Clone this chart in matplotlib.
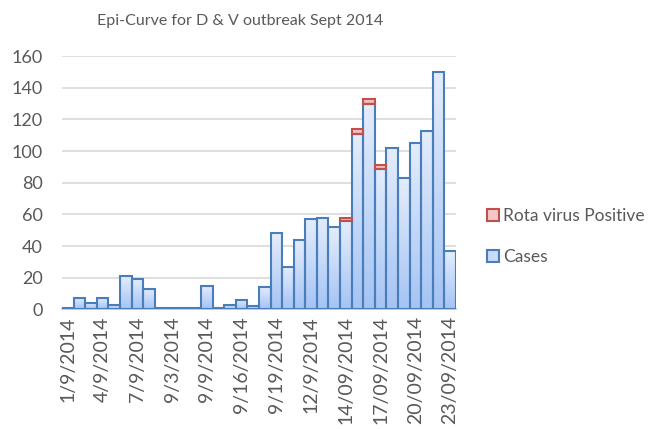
import numpy as np
import matplotlib
matplotlib.use("Agg")
import matplotlib.pyplot as plt
from matplotlib.patches import Patch

plt.rcParams['font.family'] = ['Lato', 'DejaVu Sans']

# ---- data ----
cases = [1, 7, 4, 7, 3, 21, 19, 13, 1, 1, 1, 1, 15, 1, 3, 6, 2, 14,
         48, 27, 44, 57, 58, 52, 56, 111, 130, 89, 102, 83, 105, 113, 150, 37]
rota = [0, 0, 0, 0, 0, 0, 0, 0, 0, 0, 0, 0, 0, 0, 0, 0, 0, 0,
        0, 0, 0, 0, 0, 0, 2, 3, 3, 2, 0, 0, 0, 0, 0, 0]
tick_labels = ["1/9/2014", "4/9/2014", "7/9/2014", "9/3/2014", "9/9/2014",
               "9/16/2014", "9/19/2014", "12/9/2014", "14/09/2014",
               "17/09/2014", "20/09/2014", "23/09/2014"]
title = "Epi-Curve for D & V outbreak Sept 2014"

blue_edge = "#4a7ebb"
red_edge = "#c0504d"
grey_text = "#595959"

fig = plt.figure(figsize=(6.54, 4.29), dpi=100)
ax = fig.add_axes([0.095, 0.279, 0.602, 0.590])

n = len(cases)
x = np.arange(n)
width = 1.0


def grad_bars(xs, heights, bottoms, top_col, bot_col, edge, z):
    bars = ax.bar(xs, heights, width=width, bottom=bottoms, facecolor="none",
                  edgecolor=edge, linewidth=1.5, zorder=z + 1)
    c1 = np.array(matplotlib.colors.to_rgb(top_col))
    c2 = np.array(matplotlib.colors.to_rgb(bot_col))
    t = np.linspace(0, 1, 64)[:, None]
    img = (c1 * (1 - t) + c2 * t)[:, None, :]
    for b in bars:
        h = b.get_height()
        if h <= 0:
            continue
        x0 = b.get_x()
        y0 = b.get_y()
        im = ax.imshow(img, extent=[x0, x0 + b.get_width(), y0, y0 + h],
                       aspect='auto', origin='upper', zorder=z,
                       interpolation='bilinear')
        im.set_clip_path(b)
    return bars


grad_bars(x, cases, 0, "#e4edfc", "#a5c4f4", blue_edge, 3)
rx = [i for i in range(n) if rota[i] > 0]
grad_bars(rx, [rota[i] for i in rx], [cases[i] for i in rx],
          "#f8d3d3", "#e9a5a5", red_edge, 5)

ax.set_xlim(-0.5, n - 0.5)
ax.set_ylim(0, 160)
ax.set_yticks(np.arange(0, 161, 20))
ax.yaxis.grid(True, color="#d9d9d9", linewidth=1.2, zorder=0)
ax.set_axisbelow(True)
ax.set_xticks(np.arange(0, n, 3))
ax.set_xticklabels(tick_labels, rotation=90, fontsize=14, color=grey_text)
ax.tick_params(axis='y', labelsize=13, labelcolor=grey_text, length=0, pad=14)
ax.tick_params(axis='x', length=0, pad=5)
for s in ["top", "right", "left"]:
    ax.spines[s].set_visible(False)
ax.spines["bottom"].set_color("#bfbfbf")
ax.spines["bottom"].set_linewidth(1.2)

fig.text(0.367, 0.950, title, ha="center", va="center", fontsize=11.5,
         color=grey_text)

handles = [Patch(facecolor="#f5c6c6", edgecolor=red_edge, linewidth=1.5),
           Patch(facecolor="#c9dcf8", edgecolor=blue_edge, linewidth=1.5)]
fig.legend(handles, ["Rota virus Positive", "Cases"], loc="center left",
           bbox_to_anchor=(0.726, 0.448), frameon=False, fontsize=12.5,
           labelcolor=grey_text, handlelength=0.7, handleheight=0.7,
           handletextpad=0.25, labelspacing=1.45, borderpad=0.2)

fig.savefig("out.png", dpi=100)
